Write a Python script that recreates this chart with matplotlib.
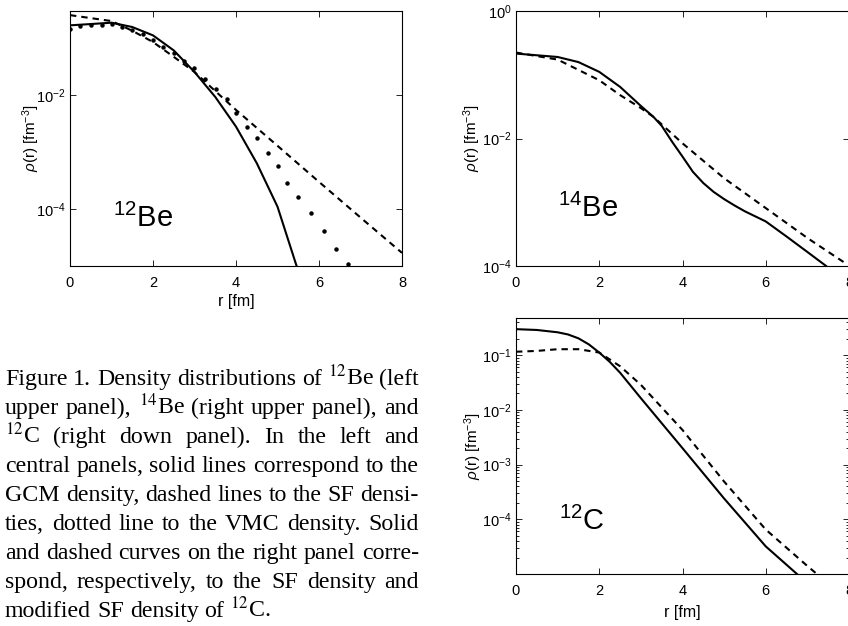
import matplotlib
matplotlib.use('Agg')
import matplotlib.pyplot as plt
from matplotlib.transforms import IdentityTransform
from matplotlib.ticker import FixedLocator, NullLocator, LogLocator, NullFormatter

# ---------------- data ----------------
# 12Be: GCM (solid), SF (dashed), VMC (dots)
be12_r_gcm = [0.0, 0.5, 1.0, 1.5, 2.0, 2.5, 3.0, 3.5, 4.0, 4.5, 5.0, 5.46]
be12_gcm = [0.168, 0.177, 0.187, 0.157, 0.112, 0.061, 0.0255, 0.0093, 0.0028, 6.4e-4, 1.1e-4, 1.0e-5]
be12_r_sf = [0.0, 0.5, 1.0, 1.5, 2.0, 2.5, 3.0, 3.5, 4.0, 5.0, 6.0, 7.0, 8.0]
be12_sf = [0.254, 0.225, 0.20, 0.135, 0.0855, 0.047, 0.0255, 0.0118, 0.0055, 1.29e-3, 3.0e-4, 7.1e-5, 1.7e-5]
be12_r_vmc = [0.0, 0.24, 0.5, 0.76, 1.0, 1.25, 1.49, 1.75, 2.0, 2.25, 2.5, 2.75, 2.99, 3.26,
              3.52, 3.78, 4.0, 4.26, 4.51, 4.76, 5.01, 5.22, 5.5, 5.8, 6.12, 6.4, 6.7]
be12_vmc = [0.1466, 0.163, 0.168, 0.172, 0.179, 0.156, 0.141, 0.117, 0.093, 0.071, 0.054, 0.040,
            0.030, 0.019, 0.0126, 0.0084, 0.0048, 0.0028, 1.75e-3, 9.5e-4, 5.6e-4, 2.9e-4,
            1.62e-4, 8.5e-5, 4.2e-5, 2.0e-5, 1.1e-5]

# 14Be: solid and dashed
be14_r_solid = [0.0, 1.0, 1.5, 2.0, 2.5, 3.0, 3.3, 3.5, 3.75, 4.0, 4.25, 4.5, 4.75, 5.0, 5.25,
                5.5, 6.0, 6.5, 7.0, 7.45]
be14_solid = [0.215, 0.19, 0.158, 0.111, 0.0646, 0.0324, 0.0219, 0.0158, 0.0089, 0.0052, 3.0e-3,
              2.0e-3, 1.45e-3, 1.12e-3, 8.9e-4, 7.2e-4, 5.0e-4, 2.9e-4, 1.66e-4, 1.0e-4]
be14_r_dash = [0.0, 1.0, 2.0, 2.5, 3.0, 3.3, 4.0, 5.0, 6.0, 7.0, 7.9]
be14_dash = [0.223, 0.173, 0.082, 0.048, 0.030, 0.0219, 8.4e-3, 2.38e-3, 8.1e-4, 2.75e-4, 1.12e-4]

# 12C: SF (solid) and modified SF (dashed)
c12_r_solid = [0.0, 0.5, 1.0, 1.25, 1.5, 1.75, 2.0, 2.25, 2.5, 3.0, 4.0, 5.0, 6.0, 6.75]
c12_solid = [0.30, 0.29, 0.263, 0.24, 0.204, 0.158, 0.112, 0.076, 0.048, 0.0164, 2.0e-3, 2.4e-4,
             3.2e-5, 1.0e-5]
c12_r_dash = [0.0, 0.5, 1.0, 1.5, 2.0, 2.5, 3.0, 4.0, 5.0, 6.0, 7.0, 7.3]
c12_dash = [0.116, 0.12, 0.129, 0.129, 0.112, 0.063, 0.0288, 4.3e-3, 4.9e-4, 6.5e-5, 1.4e-5, 9.0e-6]

x_ticks = [0, 2, 4, 6, 8]
ylabel = r'$\rho$(r) [fm$^{-3}$]'
xlabel = 'r [fm]'

caption_lines = [
    ['Figure', '1.', 'Density', 'distributions', 'of', r'$^{12}$Be', '(left'],
    ['upper', 'panel),', r'$^{14}$Be', '(right', 'upper', 'panel),', 'and'],
    [r'$^{12}$C', '(right', 'down', 'panel).', ' In', 'the', 'left', 'and'],
    ['central', 'panels,', 'solid', 'lines', 'correspond', 'to', 'the'],
    ['GCM', 'density,', 'dashed', 'lines', 'to', 'the', 'SF', 'densi-'],
    ['ties,', 'dotted', 'line', 'to', 'the', 'VMC', 'density.', 'Solid'],
    ['and', 'dashed', 'curves', 'on', 'the', 'right', 'panel', 'corre-'],
    ['spond,', 'respectively,', 'to', 'the', 'SF', 'density', 'and'],
    ['modified', 'SF', 'density', 'of', r'$^{12}$C.'],
]

# ---------------- style ----------------
plt.rcParams.update({
    'font.family': ['Liberation Sans', 'DejaVu Sans'],
    'mathtext.fontset': 'custom',
    'mathtext.rm': 'Liberation Sans',
    'mathtext.it': 'Liberation Sans:italic',
    'mathtext.bf': 'Liberation Sans:bold',
    'lines.scale_dashes': False,
})

W, H = 848, 626
fig = plt.figure(figsize=(W / 100, H / 100), dpi=100)


def px_axes(l, t, r, b):
    return fig.add_axes([l / W, 1 - b / H, (r - l) / W, (b - t) / H])


ax1 = px_axes(70, 11, 402, 266)
ax2 = px_axes(516, 11, 849, 266)
ax3 = px_axes(516, 318, 849, 574)

LW = 1.5
DASH = (0, (4.6, 3.6))

ax1.plot(be12_r_gcm, be12_gcm, color='black', lw=LW)
ax1.plot(be12_r_sf, be12_sf, color='black', lw=LW, linestyle=DASH)
ax1.plot(be12_r_vmc, be12_vmc, linestyle='none', marker='o', ms=2.2, color='black')

ax2.plot(be14_r_solid, be14_solid, color='black', lw=LW)
ax2.plot(be14_r_dash, be14_dash, color='black', lw=LW, linestyle=DASH)

ax3.plot(c12_r_solid, c12_solid, color='black', lw=LW)
ax3.plot(c12_r_dash, c12_dash, color='black', lw=LW, linestyle=DASH)

ylims = {ax1: (1e-5, 0.30), ax2: (1e-4, 1.0), ax3: (1e-5, 0.48)}
yticks = {ax1: [1e-4, 1e-2], ax2: [1e-4, 1e-2, 1.0], ax3: [1e-4, 1e-3, 1e-2, 1e-1]}

for ax in (ax1, ax2, ax3):
    ax.set_yscale('log')
    ax.set_xlim(0, 8)
    ax.set_ylim(*ylims[ax])
    ax.set_xticks(x_ticks)
    ax.yaxis.set_major_locator(FixedLocator(yticks[ax]))
    ax.tick_params(which='both', direction='in', top=True, right=True,
                   labelsize=10.5, width=0.6, color='black')
    ax.tick_params(axis='x', pad=7)
    ax.tick_params(axis='y', pad=3)
    ax.tick_params(which='major', length=4)
    ax.tick_params(which='minor', length=2)
    for s in ax.spines.values():
        s.set_linewidth(0.8)

ax1.yaxis.set_minor_locator(NullLocator())
ax2.yaxis.set_minor_locator(NullLocator())
ax3.yaxis.set_minor_locator(LogLocator(base=10, subs=range(2, 10), numticks=20))
ax3.yaxis.set_minor_formatter(NullFormatter())

# y labels (pixel-centred)
for ax, xc, (t, b) in ((ax1, 31, (11, 266)), (ax2, 472, (11, 266)), (ax3, 473, (318, 574))):
    fig.text(xc / W, 1 - (t + b) / 2 / H, ylabel, rotation=90, ha='center', va='center', fontsize=11)

fig.text((70 + 402) / 2 / W, 1 - 302 / H, xlabel, ha='center', va='center', fontsize=11.5)
fig.text((516 + 849) / 2 / W, 1 - 613 / H, xlabel, ha='center', va='center', fontsize=11.5)

# panel labels
ax1.text(0.13, 0.154, r'$^{12}$Be', transform=ax1.transAxes, fontsize=21, ha='left', va='baseline')
ax2.text(0.126, 0.193, r'$^{14}$Be', transform=ax2.transAxes, fontsize=21, ha='left', va='baseline')
ax3.text(0.129, 0.172, r'$^{12}$C', transform=ax3.transAxes, fontsize=21, ha='left', va='baseline')

# ---------------- justified caption ----------------
renderer = fig.canvas.get_renderer()
CAP_FS = 17.2
X0, X1 = 5, 419
BASE0, LSTEP = 385, 29
for i, words in enumerate(caption_lines):
    y = H - (BASE0 + i * LSTEP)
    objs = []
    widths = []
    for w in words:
        t = fig.text(0, y, w.strip(), transform=IdentityTransform(), fontsize=CAP_FS,
                     family=['Liberation Serif', 'DejaVu Serif'], math_fontfamily='stix',
                     ha='left', va='baseline')
        objs.append(t)
        widths.append(t.get_window_extent(renderer).width)
    last = (i == len(caption_lines) - 1)
    if last:
        gap = 0.25 * CAP_FS * 100 / 72
    else:
        gap = (X1 - X0 - sum(widths)) / (len(words) - 1)
    x = X0
    for t, wdt in zip(objs, widths):
        t.set_x(x)
        x += wdt + gap

fig.savefig('out.png', dpi=100)
